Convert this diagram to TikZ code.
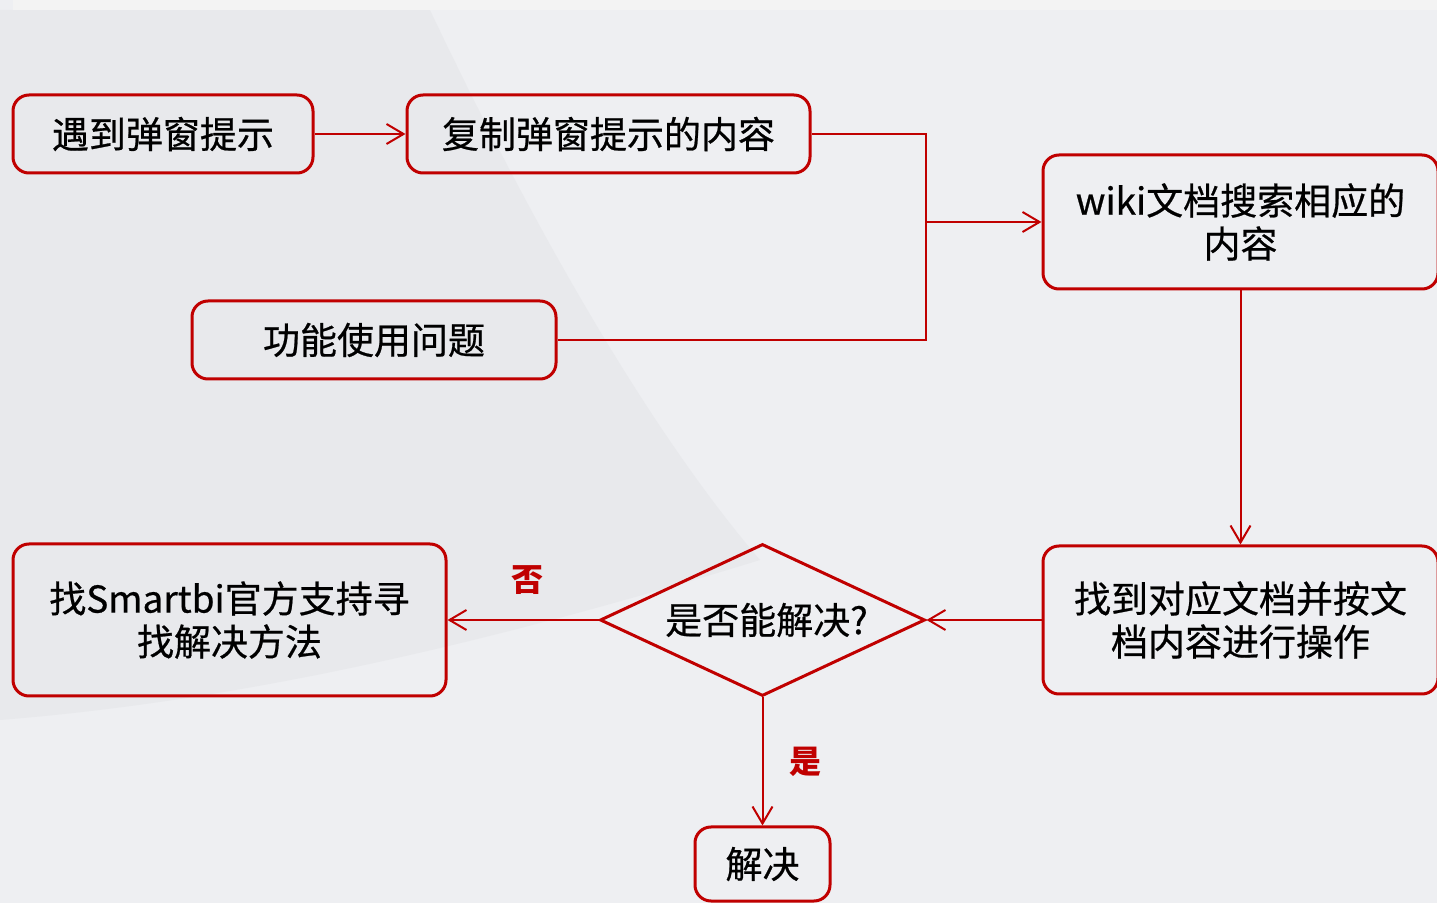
\documentclass[tikz,border=0pt]{standalone}
\usepackage{fontspec}
\setmainfont{Noto Sans CJK SC}
\newfontfamily\boxfont{Noto Sans CJK SC}[FakeBold=0.6]
\usetikzlibrary{arrows.meta,shapes.geometric}
\definecolor{bred}{HTML}{C00000}
\definecolor{bg}{HTML}{EEEFF2}
\definecolor{bgdark}{HTML}{E8E9EC}
\definecolor{bgtop}{HTML}{F3F3F3}
\begin{document}
\begin{tikzpicture}[x=0.5pt,y=-0.5pt,
  box/.style={draw=bred, line width=1.5pt, rounded corners=8pt, align=center,
    font=\boxfont\fontsize{18.5}{21.5}\selectfont, inner sep=0pt},
  dia/.style={draw=bred, line width=1.5pt, diamond, inner sep=0pt},
  conn/.style={draw=bred, line width=1pt},
  arr/.style={conn, -{Straight Barb[length=8.5pt,width=10pt,line width=1pt]}},
  lbl/.style={text=bred, font=\fontsize{16}{18}\selectfont\bfseries}]
\useasboundingbox (0,0) rectangle (1437,903);
\clip (0,0) rectangle (1437,903);
% background
\fill[bg] (0,0) rectangle (1437,903);
\fill[bgdark] (0,10) -- (430,10) .. controls (520,200) and (640,420) .. (760,560)
  .. controls (500,640) and (250,700) .. (0,720) -- cycle;
\fill[bgtop] (13,0) rectangle (1437,10);
% nodes
\node[box, minimum width=150pt, minimum height=39pt] (b1) at (163,134) {遇到弹窗提示};
\node[box, minimum width=201.5pt, minimum height=39pt] (b2) at (608.5,134) {复制弹窗提示的内容};
\node[box, minimum width=182pt, minimum height=39pt] (b3) at (374,340) {功能使用问题};
\node[box, minimum width=197.5pt, minimum height=67pt] (b4) at (1240.5,222) {wiki文档搜索相应的\\内容};
\node[box, minimum width=197.5pt, minimum height=74pt] (b5) at (1240.5,620) {找到对应文档并按文\\档内容进行操作};
\node[box, minimum width=216.5pt, minimum height=76pt] (b6) at (229.5,620) {找Smartbi官方支持寻\\找解决方法};
\node[dia, minimum width=162.5pt, minimum height=76pt] (d) at (762.5,620) {};
\node[font=\boxfont\fontsize{18.5}{21.5}\selectfont, inner sep=0pt] (dt) at ([xshift=2pt]d.center) {是否能解决?};
\node[box, minimum width=67.5pt, minimum height=37pt] (b7) at (762.5,864) {解决};
\coordinate (j) at (926,222);
% connectors
\draw[arr] (b1.east) -- (b2.west);
\draw[conn] (b2.east) -| (j);
\draw[conn] (b3.east) -| (j);
\draw[arr] (j) -- (b4.west);
\draw[arr] (b4.south) -- (b5.north);
\draw[arr] (b5.west) -- (d.east);
\draw[arr] (d.west) -- (b6.east);
\draw[arr] (d.south) -- (b7.north);
% labels
\node[lbl] (no) at (527,580) {否};
\node[lbl] (yes) at (805,762) {是};
\end{tikzpicture}
\end{document}
